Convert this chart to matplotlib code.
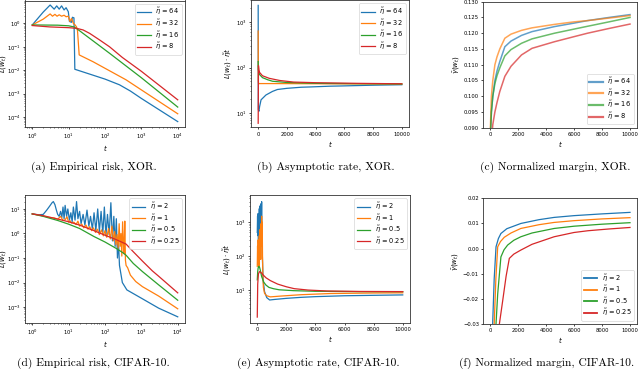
import matplotlib
matplotlib.use("Agg")
import matplotlib.pyplot as plt

W, H = 640, 369

# ---------------- data ----------------
C = ['#1f77b4', '#ff7f0e', '#2ca02c', '#d62728']

# (a) Empirical risk, XOR
a_labels = ["64", "32", "16", "8"]
a64_t = [1, 2, 3.1, 4, 4.7, 5.5, 6.4, 7.5, 8.5, 9.8, 10.5, 12, 12.7, 14, 14.8, 100, 250, 500, 1000, 10000]
a64_v = [0.85, 3.0, 6.0, 4.0, 5.5, 4.0, 5.5, 3.7, 4.6, 3.1, 1.2, 1.1, 1.8, 1.7, 0.011, 4.2e-3, 2.4e-3, 1.3e-3, 6.3e-4, 6.5e-5]
a32_t = [1, 2, 3.1, 3.6, 4.2, 4.8, 5.5, 6.4, 7.5, 8.5, 9.8, 10.8, 12, 13.5, 15, 16.5, 17.5, 19.5, 47, 380, 10000]
a32_v = [0.85, 1.5, 2.5, 2.0, 2.4, 2.0, 2.3, 2.0, 2.2, 1.9, 2.0, 1.2, 1.6, 1.0, 0.85, 0.7, 0.5, 0.045, 0.023, 3.9e-3, 1.4e-4]
a16_t = [1, 5, 10, 14, 16.5, 133, 1000, 10000]
a16_v = [0.85, 0.83, 0.78, 0.7, 0.6, 0.053, 4.8e-3, 2.7e-4]
a8_t = [1, 3, 10, 16.5, 25, 38, 71, 133, 300, 1000, 10000]
a8_v = [0.8, 0.7, 0.65, 0.61, 0.52, 0.37, 0.195, 0.1, 0.035, 9e-3, 5.5e-4]

# (b) Asymptotic rate, XOR
b64_t = [0, 10, 50, 100, 200, 540, 1000, 1340, 2000, 3000, 3600, 5000, 5850, 8000, 10000]
b64_v = [2300, 12, 11, 14, 19.6, 25, 30, 33, 35, 37, 37.5, 39, 39.5, 41, 42]
b32_t = [0, 10, 30, 100, 1000, 5000, 10000]
b32_v = [630, 50, 44, 44.5, 44.5, 44, 43.5]
b16_t = [0, 10, 50, 100, 300, 660, 1000, 2000, 4000, 10000]
b16_v = [135, 90, 78, 70, 60, 54, 50, 47, 45, 43.5]
b8_t = [0, 20, 60, 100, 300, 770, 1500, 2470, 4000, 7000, 10000]
b8_v = [6, 110, 85, 78, 66, 58, 52, 48, 46.5, 45, 44]

# (c) Normalized margin, XOR
c_t = [30, 100, 200, 350, 500, 700, 1060, 1500, 2250, 3000, 4610, 6000, 6970, 8500, 10000]
c64 = [0.088, 0.095, 0.100, 0.105, 0.108, 0.111, 0.1157, 0.1175, 0.1193, 0.1205, 0.1221, 0.1232, 0.1240, 0.1250, 0.1259]
c32 = [0.090, 0.100, 0.105, 0.110, 0.1125, 0.115, 0.1184, 0.1197, 0.1209, 0.1217, 0.1228, 0.1236, 0.1240, 0.1248, 0.1256]
c16 = [0.088, 0.095, 0.100, 0.104, 0.1065, 0.109, 0.1128, 0.1148, 0.1168, 0.1182, 0.1200, 0.1213, 0.1222, 0.1236, 0.1250]
c8 = [0.082, 0.086, 0.091, 0.095, 0.098, 0.1015, 0.1063, 0.1095, 0.1131, 0.1152, 0.1173, 0.1189, 0.1200, 0.1215, 0.1229]

# (d) Empirical risk, CIFAR-10
d_labels = ["2", "1", "0.5", "0.25"]
d2_t = [1, 1.5, 2, 2.5, 3, 3.5, 3.8, 4.2, 4.6, 5, 5.5, 6, 6.5, 7, 7.5, 8, 8.8, 9.5, 10.5, 11.5,
        12.5, 13.5, 15, 16.5, 18, 20, 22, 25, 28, 32, 36, 40, 45, 50, 56, 63, 70, 78, 87, 96,
        106, 117, 130, 145, 160, 175, 190, 205, 220, 235, 250, 300, 400, 1000, 3000, 10000]
d2_v = [6.3, 5.8, 6.0, 9.0, 13, 18, 20, 15, 9.0, 6.0, 5.0, 8.0, 4.5, 12, 4.0, 14, 5.0, 10, 3.5, 7.0,
        3.0, 12, 3.5, 20, 4.0, 8.0, 2.5, 6.0, 2.2, 9.0, 2.0, 5.0, 1.5, 7.0, 1.3, 10, 1.2, 8.0, 1.0, 12,
        0.8, 6.0, 0.9, 18, 0.5, 5.0, 0.3, 4.0, 0.1, 0.5, 0.05, 0.01, 5e-3, 2.3e-3, 9e-4, 4e-4]
d1_t = [1, 2, 3, 4, 5, 6, 7, 8, 9, 10, 11, 12, 14, 16, 18, 20, 23, 26, 30, 34,
        38, 43, 48, 55, 62, 70, 80, 90, 100, 112, 125, 140, 155, 170, 185, 200, 215, 230, 245, 260,
        275, 290, 305, 320, 335, 350, 365, 380, 420, 500, 700, 1070, 3000, 10000]
d1_v = [6.3, 5.2, 4.5, 4.3, 3.8, 5.0, 3.4, 3.6, 4.8, 2.9, 3.3, 2.7, 2.9, 2.3, 3.2, 2.0, 2.4, 1.7, 2.2, 1.5,
        1.9, 1.3, 1.7, 1.1, 1.5, 0.9, 1.4, 0.8, 1.3, 0.7, 1.6, 0.6, 2.0, 0.5, 1.2, 0.35, 0.9, 0.25, 2.5, 0.3,
        1.0, 0.12, 3.0, 0.4, 0.15, 3.2, 0.08, 0.05, 0.04, 0.02, 0.011, 6.8e-3, 2.8e-3, 8.5e-4]
d05_t = [1, 2, 5, 10, 20, 50, 100, 200, 300, 380, 600, 1070, 3000, 10000]
d05_v = [6.3, 5.0, 3.4, 2.4, 1.6, 0.75, 0.45, 0.25, 0.17, 0.13, 0.06, 0.028, 8e-3, 1.9e-3]
d025_t = [1, 2, 5, 10, 20, 50, 100, 200, 380, 600, 1070, 2000, 3000, 10000]
d025_v = [6.3, 5.3, 3.9, 3.0, 2.2, 1.3, 0.85, 0.57, 0.37, 0.18, 0.075, 0.03, 0.018, 3.8e-3]

# (e) Asymptotic rate, CIFAR-10
e2_t = [0, 20, 40, 60, 80, 100, 120, 140, 160, 180, 200, 220, 240, 260, 280, 300, 320, 350, 400,
        500, 650, 850, 1200, 2000, 3000, 4000, 6000, 8000, 10000]
e2_v = [500, 1500, 400, 1800, 250, 1200, 500, 2500, 350, 3000, 600, 2000, 800, 3500, 1000, 4000, 800, 100, 20,
        9, 6, 5.1, 5.3, 5.7, 6.1, 6.4, 6.8, 7.0, 7.2]
e1_t = [0, 20, 40, 60, 80, 100, 120, 140, 160, 180, 200, 220, 240, 260, 280, 300, 320, 340, 360,
        380, 420, 500, 650, 900, 1500, 3000, 5000, 8000, 10000]
e1_v = [50, 200, 60, 300, 80, 150, 50, 400, 100, 600, 150, 300, 80, 900, 200, 1500, 300, 1000, 100,
        30, 12, 8, 6.8, 6.3, 6.6, 7.3, 7.9, 8.2, 8.3]
e05_t = [0, 30, 60, 100, 150, 200, 300, 450, 600, 800, 1100, 1500, 2500, 4000, 7000, 10000]
e05_v = [20, 35, 45, 50, 48, 40, 25, 17, 14, 12, 11, 10.2, 9.6, 9.2, 9.0, 9.0]
e025_t = [0, 30, 80, 150, 250, 400, 600, 900, 1400, 2000, 2540, 3500, 4800, 7000, 10000]
e025_v = [1.6, 15, 30, 35, 33, 28, 23, 19, 15, 12.5, 11, 10, 9.4, 9.1, 9.0]

# (f) Normalized margin, CIFAR-10
f2_t = [150, 190, 300, 430, 600, 780, 1200, 2210, 3500, 4580, 6000, 8000, 10000]
f2_v = [-0.04, -0.03, -0.012, 0.0007, 0.004, 0.006, 0.0079, 0.010, 0.0115, 0.0124, 0.0131, 0.0138, 0.0144]
f1_t = [250, 300, 420, 550, 750, 1020, 1500, 2200, 3500, 4580, 6000, 8000, 10000]
f1_v = [-0.04, -0.03, -0.012, 0.0007, 0.0028, 0.0045, 0.0062, 0.008, 0.0095, 0.0104, 0.0111, 0.0118, 0.0123]
f05_t = [380, 430, 550, 780, 1000, 1260, 1700, 2200, 3000, 4580, 6000, 8000, 10000]
f05_v = [-0.04, -0.03, -0.018, -0.0033, -0.0005, 0.0014, 0.0033, 0.0047, 0.0062, 0.008, 0.0089, 0.0097, 0.0103]
f025_t = [600, 670, 900, 1150, 1380, 1700, 2200, 3000, 4580, 6000, 7000, 8500, 10000]
f025_v = [-0.035, -0.03, -0.021, -0.011, -0.0039, -0.0022, -0.0006, 0.0017, 0.0047, 0.0064, 0.0071, 0.0078, 0.0084]

captions = ["(a) Empirical risk, XOR.", "(b) Asymptotic rate, XOR.", "(c) Normalized margin, XOR.",
            "(d) Empirical risk, CIFAR-10.", "(e) Asymptotic rate, CIFAR-10.", "(f) Normalized margin, CIFAR-10."]

# ---------------- style ----------------
plt.rcParams.update({
    'font.size': 3.8,
    'axes.linewidth': 0.6,
    'xtick.major.size': 1.6, 'ytick.major.size': 1.6,
    'xtick.minor.size': 0.9, 'ytick.minor.size': 0.9,
    'xtick.major.width': 0.5, 'ytick.major.width': 0.5,
    'xtick.minor.width': 0.4, 'ytick.minor.width': 0.4,
    'xtick.major.pad': 1.5, 'ytick.major.pad': 1.3,
    'axes.labelpad': 1.5,
    'axes.edgecolor': '#333333',
})
LW = 0.9
LABEL_FS = 5
LEG_FS = 4.8

fig = plt.figure(figsize=(W / 100, H / 100), dpi=100)


def axes_px(l, t, r, b):
    return fig.add_axes([l / W, 1 - b / H, (r - l) / W, (b - t) / H])


def leg(ax, loc):
    lg = ax.legend(loc=loc, fontsize=LEG_FS, handlelength=2.0, borderpad=0.35, labelspacing=0.05,
                   handletextpad=0.7, framealpha=0.8, edgecolor='#cccccc', fancybox=True)
    lg.get_frame().set_linewidth(0.5)
    return lg


def lab(s):
    return r"$\tilde{\eta}$ = " + s


# (a)
ax = axes_px(25, 0.5, 185, 127.3)
for tt, vv, c, l in zip([a64_t, a32_t, a16_t, a8_t], [a64_v, a32_v, a16_v, a8_v], C, a_labels):
    ax.plot(tt, vv, color=c, lw=LW, label=lab(l))
ax.set_xscale('log'); ax.set_yscale('log')
ax.set_xlim(10 ** -0.2, 10 ** 4.2); ax.set_ylim(10 ** -4.43, 10 ** 0.97)
ax.set_xlabel(r"$t$", fontsize=LABEL_FS); ax.set_ylabel(r"$L(w_t)$", fontsize=LABEL_FS)
ax.yaxis.set_label_coords((8.5 - 25) / 160, 0.5)
leg(ax, 'upper right')

# (b)
ax = axes_px(251, 0.0, 409, 127.3)
for tt, vv, c, l in zip([b64_t, b32_t, b16_t, b8_t], [b64_v, b32_v, b16_v, b8_v], C, a_labels):
    ax.plot(tt, vv, color=c, lw=LW, label=lab(l))
ax.set_yscale('log')
ax.set_xlim(-500, 10500); ax.set_ylim(10 ** 0.69, 10 ** 3.48)
ax.set_xticks([0, 2000, 4000, 6000, 8000, 10000])
ax.set_xlabel(r"$t$", fontsize=LABEL_FS); ax.set_ylabel(r"$L(w_t)\cdot\tilde{\eta}t$", fontsize=LABEL_FS)
leg(ax, 'upper right')

# (c)
ax = axes_px(483, 1.7, 637, 127.7)
for vv, c, l in zip([c64, c32, c16, c8], C, a_labels):
    ax.plot(c_t, vv, color=c, lw=1.1, alpha=0.7, label=lab(l))
ax.set_xlim(-500, 10500); ax.set_ylim(0.09, 0.13)
ax.set_xticks([0, 2000, 4000, 6000, 8000, 10000])
ax.set_yticks([0.090, 0.095, 0.100, 0.105, 0.110, 0.115, 0.120, 0.125, 0.130])
ax.set_xlabel(r"$t$", fontsize=LABEL_FS); ax.set_ylabel(r"$\bar{\gamma}(w_t)$", fontsize=LABEL_FS)
lg = leg(ax, 'lower right')
for h in lg.get_lines():
    h.set_linewidth(1.6)

# (d)
ax = axes_px(25, 195, 185, 323)
for tt, vv, c, l in zip([d2_t, d1_t, d05_t, d025_t], [d2_v, d1_v, d05_v, d025_v], C, d_labels):
    ax.plot(tt, vv, color=c, lw=LW, label=lab(l))
ax.set_xscale('log'); ax.set_yscale('log')
ax.set_xlim(10 ** -0.2, 10 ** 4.2); ax.set_ylim(10 ** -3.65, 10 ** 1.57)
ax.set_xlabel(r"$t$", fontsize=LABEL_FS); ax.set_ylabel(r"$L(w_t)$", fontsize=LABEL_FS)
ax.yaxis.set_label_coords((8.5 - 25) / 160, 0.5)
leg(ax, 'upper right')

# (e)
ax = axes_px(250, 195, 410, 323)
for tt, vv, c, l in zip([e2_t, e1_t, e05_t, e025_t], [e2_v, e1_v, e05_v, e025_v], C, d_labels):
    ax.plot(tt, vv, color=c, lw=LW, label=lab(l))
ax.set_yscale('log')
ax.set_xlim(-500, 10500); ax.set_ylim(10 ** 0.03, 10 ** 3.8)
ax.set_xticks([0, 2000, 4000, 6000, 8000, 10000])
ax.set_xlabel(r"$t$", fontsize=LABEL_FS); ax.set_ylabel(r"$L(w_t)\cdot\tilde{\eta}t$", fontsize=LABEL_FS)
leg(ax, 'upper right')

# (f)
ax = axes_px(483, 198.3, 637, 324)
for tt, vv, c, l in zip([f2_t, f1_t, f05_t, f025_t], [f2_v, f1_v, f05_v, f025_v], C, d_labels):
    ax.plot(tt, vv, color=c, lw=LW, label=lab(l))
ax.set_xlim(-500, 10500); ax.set_ylim(-0.03, 0.02)
ax.set_xticks([0, 2000, 4000, 6000, 8000, 10000])
ax.set_yticks([-0.03, -0.02, -0.01, 0.0, 0.01, 0.02])
ax.set_xlabel(r"$t$", fontsize=LABEL_FS); ax.set_ylabel(r"$\bar{\gamma}(w_t)$", fontsize=LABEL_FS)
lg = leg(ax, 'lower right')
for h in lg.get_lines():
    h.set_linewidth(1.3)

# captions
cap_pos = [(94, 167), (326, 167), (555, 167), (93, 363), (318, 363), (547, 363)]
for (x, y), s in zip(cap_pos, captions):
    fig.text(x / W, 1 - y / H, s, ha='center', va='center', fontfamily='cmr10', fontsize=8.3)

fig.savefig("out.png", dpi=100)
